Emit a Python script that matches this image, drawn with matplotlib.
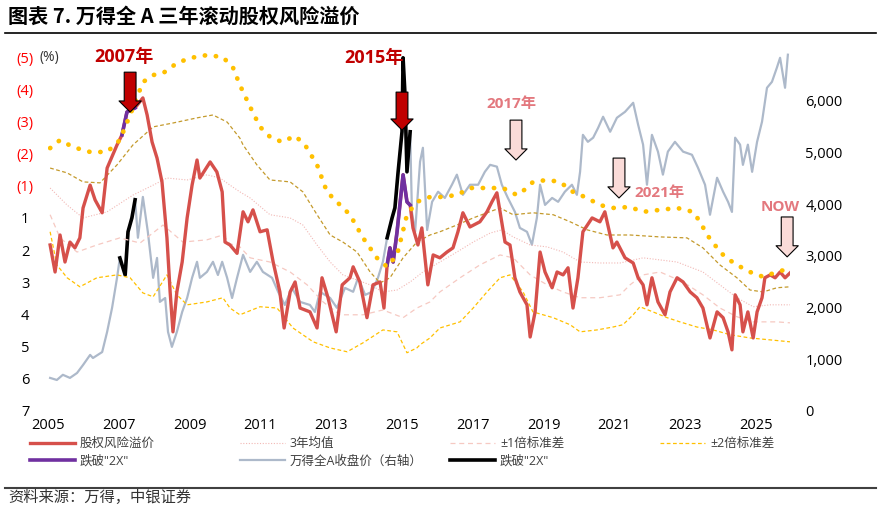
import numpy as np
import matplotlib
matplotlib.use("Agg")
import matplotlib.pyplot as plt
from matplotlib.lines import Line2D

plt.rcParams['font.family'] = ['Open Sans', 'Noto Sans CJK SC', 'DejaVu Sans']

# ---- data ----
# ERP axis uses tick positions -5..6, labelled (5)..(1),1..7
erp_t = [2005.06, 2005.20, 2005.34, 2005.48, 2005.62, 2005.76, 2005.90, 2005.99, 2006.19, 2006.33,
         2006.53, 2006.67, 2006.95, 2007.09, 2007.23, 2007.46, 2007.68, 2007.80, 2007.94, 2008.08,
         2008.22, 2008.36, 2008.45, 2008.53, 2008.64, 2008.79, 2008.93, 2009.07, 2009.21, 2009.29,
         2009.58, 2009.77, 2009.92, 2010.00, 2010.14, 2010.34, 2010.51, 2010.65, 2010.79, 2010.99,
         2011.19, 2011.36, 2011.55, 2011.67, 2011.84, 2011.98, 2012.12, 2012.40, 2012.60, 2012.74,
         2012.91, 2013.14, 2013.31, 2013.53, 2013.62, 2013.81, 2014.01, 2014.18, 2014.38, 2014.49,
         2014.58, 2014.66, 2014.75, 2014.86, 2014.94, 2015.03, 2015.14, 2015.23, 2015.31, 2015.45,
         2015.56, 2015.65, 2015.73, 2015.88, 2016.07, 2016.27, 2016.44, 2016.58, 2016.72, 2016.92,
         2017.20, 2017.40, 2017.54, 2017.68, 2017.77, 2017.91, 2018.05, 2018.19, 2018.33, 2018.53,
         2018.62, 2018.76, 2018.90, 2019.04, 2019.24, 2019.38, 2019.55, 2019.69, 2019.83, 2019.97,
         2020.11, 2020.37, 2020.59, 2020.73, 2020.88, 2020.96, 2021.07, 2021.30, 2021.53, 2021.67,
         2021.81, 2021.92, 2022.06, 2022.23, 2022.43, 2022.57, 2022.77, 2022.94, 2023.14, 2023.33,
         2023.50, 2023.70, 2023.90, 2024.07, 2024.21, 2024.32, 2024.41, 2024.55, 2024.63, 2024.77,
         2024.92, 2025.03, 2025.17, 2025.25, 2025.40, 2025.54, 2025.68, 2025.82, 2025.96]
erp_v = [0.84, 1.68, 0.53, 1.37, 0.75, 0.93, 0.62, -0.31, -1.02, -0.56,
         -0.16, -1.55, -2.27, -2.58, -3.29, -3.42, -3.73, -3.20, -2.36, -1.86,
         -1.12, 0.62, 2.30, 3.54, 2.30, 1.37, 0.00, -1.02, -1.80, -1.24,
         -1.74, -1.43, -0.81, 0.75, 0.84, 1.10, -0.19, 0.12, -0.25, 0.43,
         0.37, 1.37, 2.30, 3.42, 2.30, 1.99, 2.80, 2.92, 3.42, 1.86,
         2.48, 3.54, 2.08, 1.86, 1.52, 1.99, 3.10, 2.08, 1.99, 2.80,
         1.46, 0.93, 1.37, 0.43, -0.40, -1.34, -0.50, -0.40, 0.31, 0.84,
         0.31, 1.24, 2.08, 1.15, 1.24, 1.06, 0.93, 0.43, -0.16, 0.28,
         0.12, -0.19, -0.50, -0.78, -0.19, 0.75, 0.84, 1.86, 2.30, 2.70,
         3.70, 2.92, 1.06, 1.68, 2.17, 1.68, 1.77, 1.55, 2.80, 1.86,
         0.43, 0.00, 0.12, -0.19, 0.55, 0.93, 0.75, 1.24, 1.40, 1.86,
         2.08, 2.70, 1.86, 2.61, 3.01, 2.30, 1.86, 1.99, 2.30, 2.48,
         2.80, 3.73, 2.92, 3.10, 3.54, 4.10, 2.39, 2.70, 3.54, 2.92,
         3.73, 2.92, 2.48, 1.86, 1.77, 1.86, 1.68, 1.86, 1.71]

idx_t = [2005.06, 2005.25, 2005.42, 2005.62, 2005.82, 2005.99, 2006.19, 2006.27, 2006.53, 2006.67,
         2006.81, 2006.95, 2007.03, 2007.18, 2007.26, 2007.37, 2007.46, 2007.54, 2007.68, 2007.82,
         2007.97, 2008.08, 2008.16, 2008.31, 2008.39, 2008.50, 2008.64, 2008.79, 2008.93, 2009.07,
         2009.21, 2009.29, 2009.49, 2009.66, 2009.80, 2009.92, 2010.06, 2010.20, 2010.34, 2010.51,
         2010.71, 2010.90, 2011.07, 2011.33, 2011.50, 2011.69, 2011.89, 2012.12, 2012.40, 2012.54,
         2012.68, 2012.97, 2013.16, 2013.39, 2013.62, 2013.76, 2013.96, 2014.15, 2014.32, 2014.46,
         2014.58, 2014.72, 2014.80, 2014.89, 2015.00, 2015.03, 2015.08, 2015.14, 2015.23, 2015.28,
         2015.37, 2015.51, 2015.59, 2015.71, 2015.85, 2016.02, 2016.21, 2016.41, 2016.55, 2016.72,
         2016.92, 2017.15, 2017.34, 2017.49, 2017.68, 2017.82, 2017.99, 2018.19, 2018.33, 2018.53,
         2018.67, 2018.81, 2018.90, 2019.04, 2019.24, 2019.41, 2019.60, 2019.80, 2019.94, 2020.03,
         2020.11, 2020.25, 2020.40, 2020.54, 2020.68, 2020.88, 2021.07, 2021.30, 2021.53, 2021.67,
         2021.81, 2021.92, 2022.06, 2022.23, 2022.37, 2022.51, 2022.71, 2022.94, 2023.19, 2023.36,
         2023.56, 2023.70, 2023.90, 2024.07, 2024.21, 2024.32, 2024.41, 2024.55, 2024.63, 2024.77,
         2024.89, 2025.03, 2025.17, 2025.31, 2025.45, 2025.59, 2025.68, 2025.82, 2025.90]
idx_v = [640, 600, 700, 640, 735, 890, 1085, 1025, 1140, 1530,
         1995, 2575, 2960, 2630, 3465, 3735, 4085, 3350, 4140, 3465,
         2575, 2960, 2110, 2185, 1530, 1240, 1530, 1915, 2185, 2575,
         2885, 2575, 2690, 2885, 2630, 2885, 2575, 2185, 2575, 3020,
         2690, 2885, 2690, 2575, 2305, 2050, 2380, 2110, 2050, 1915,
         2305, 2185, 1995, 2380, 2305, 2575, 2245, 2305, 2575, 2885,
         3350, 3735, 3930, 4625, 5400, 6830, 6175, 4625, 5400, 3850,
         3465, 4820, 5090, 3500, 4045, 4240, 4120, 4375, 4570, 4180,
         4375, 4375, 4625, 4760, 4725, 4375, 4120, 3850, 3540, 3465,
         3215, 3735, 4375, 3985, 4120, 4045, 4240, 4375, 4180, 4625,
         5340, 5205, 5285, 5475, 5690, 5400, 5670, 5785, 5960, 5535,
         5150, 4375, 5340, 5015, 4570, 5015, 5205, 5015, 4955, 4705,
         4375, 3795, 4510, 4240, 4045, 3850, 5285, 5150, 4760, 5150,
         4625, 5205, 5595, 6250, 6365, 6640, 6830, 6250, 6890]

# periods where ERP broke the -2 sd band ("跌破2X")
break_windows = [(2007.0, 2007.5), (2014.55, 2015.25)]

mean_t = [2005.06, 2005.54, 2005.99, 2006.67, 2007.40, 2007.97, 2008.36, 2008.93, 2009.49, 2009.86,
          2010.14, 2010.42, 2010.71, 2011.27, 2011.84, 2012.20, 2012.60, 2012.97, 2013.33, 2013.73,
          2014.10, 2014.46, 2014.86, 2015.23, 2015.59, 2016.07, 2016.55, 2017.01, 2017.49, 2017.82,
          2018.14, 2018.62, 2019.10, 2019.55, 2020.03, 2020.59, 2021.16, 2021.81, 2022.77, 2023.50,
          2023.98, 2024.46, 2024.92, 2025.40, 2025.96]
mean_v = [-0.93, -0.40, 0.00, -0.19, -0.71, -1.02, -1.24, -1.18, -1.34, -1.24,
          -1.02, -0.81, -0.62, -0.10, 0.00, 0.22, 0.84, 1.37, 1.77, 1.93,
          2.08, 2.30, 2.24, 1.99, 1.68, 1.37, 1.06, 0.75, 0.47, 0.37,
          0.59, 0.84, 0.90, 1.06, 1.37, 1.40, 1.40, 1.24, 1.37, 1.68,
          2.08, 2.48, 2.76, 2.70, 2.70]

m1_t = [2005.06, 2005.54, 2005.99, 2006.47, 2006.95, 2007.40, 2007.97, 2008.53, 2009.21, 2009.66,
        2010.06, 2010.42, 2010.51, 2010.90, 2011.27, 2011.84, 2012.20, 2012.60, 2012.97, 2013.33,
        2013.73, 2014.10, 2014.38, 2014.66, 2015.03, 2015.42, 2015.79, 2016.07, 2016.55, 2017.01,
        2017.40, 2017.77, 2018.14, 2018.70, 2019.27, 2019.75, 2020.23, 2020.79, 2021.44, 2022.29,
        2023.05, 2023.50, 2023.98, 2024.46, 2024.83, 2025.20, 2025.59, 2025.96]
m1_v = [-1.55, -1.40, -1.12, -1.09, -1.65, -2.27, -2.83, -2.95, -3.11, -3.20,
        -2.98, -2.48, -2.27, -1.65, -1.18, -1.12, -0.81, -0.10, 0.53, 0.75,
        1.06, 1.68, 2.02, 1.86, 1.24, 0.75, 0.53, 0.43, 0.22, 0.00,
        -0.16, -0.31, -0.10, -0.16, -0.10, 0.12, 0.37, 0.53, 0.53, 0.59,
        0.62, 0.93, 1.46, 1.86, 2.24, 2.30, 2.17, 2.14]

m2_t = [2005.06, 2005.34, 2005.71, 2006.19, 2006.67, 2007.03, 2007.40, 2007.68, 2007.97, 2008.25,
        2008.64, 2009.01, 2009.49, 2009.94, 2010.23, 2010.42, 2010.71, 2010.99, 2011.27, 2011.61,
        2011.98, 2012.26, 2012.60, 2012.88, 2013.16, 2013.53, 2013.90, 2014.29, 2014.58, 2014.86,
        2015.00, 2015.14, 2015.42, 2015.79, 2016.07, 2016.55, 2016.92, 2017.40, 2017.85, 2018.25,
        2018.53, 2018.70, 2019.10, 2019.46, 2019.83, 2020.23, 2020.59, 2020.96, 2021.44, 2021.81,
        2022.29, 2022.77, 2023.22, 2023.42, 2023.62, 2023.90, 2024.12, 2024.46, 2024.83, 2025.20,
        2025.59, 2025.82]
m2_v = [-2.17, -2.42, -2.20, -2.05, -2.05, -2.42, -3.42, -4.22, -4.44, -4.50,
        -4.81, -4.97, -5.06, -5.00, -4.66, -4.13, -3.45, -2.83, -2.52, -2.36,
        -2.55, -2.27, -1.65, -0.81, -0.50, -0.10, 0.62, 1.24, 1.52, 1.15,
        0.53, -0.10, -0.50, -0.65, -0.65, -0.71, -0.93, -0.93, -0.93, -0.71,
        -0.93, -1.12, -1.18, -1.12, -0.81, -0.62, -0.40, -0.31, -0.34, -0.19,
        -0.25, -0.31, -0.19, 0.12, 0.53, 0.93, 1.21, 1.46, 1.68, 1.83,
        1.68, 1.61]

p1_t = [2005.06, 2005.34, 2005.82, 2006.38, 2007.03, 2007.60, 2008.25, 2008.81, 2009.49, 2009.94,
        2010.14, 2010.42, 2010.71, 2011.27, 2011.84, 2012.32, 2012.77, 2013.25, 2013.90, 2014.46,
        2015.03, 2015.42, 2015.79, 2016.07, 2016.64, 2017.20, 2017.77, 2018.14, 2018.62, 2019.10,
        2019.55, 2020.03, 2020.59, 2021.16, 2021.44, 2021.81, 2022.29, 2022.94, 2023.50, 2023.98,
        2024.46, 2024.92, 2025.59, 2025.96]
p1_v = [-0.10, 0.62, 1.06, 0.84, 0.62, 0.78, 0.22, 0.75, 0.68, 0.53,
        0.80, 0.90, 1.24, 1.37, 1.68, 2.08, 2.61, 3.01, 3.01, 2.86,
        3.10, 2.80, 2.61, 2.30, 1.86, 1.46, 1.15, 1.24, 1.77, 2.08,
        2.30, 2.48, 2.48, 2.39, 2.08, 1.77, 1.68, 1.99, 2.39, 2.80,
        3.07, 3.23, 3.23, 3.26]

p2_t = [2005.06, 2005.25, 2005.54, 2005.90, 2006.38, 2006.95, 2007.32, 2007.68, 2007.97, 2008.36,
        2008.64, 2008.93, 2009.49, 2009.94, 2010.14, 2010.42, 2010.99, 2011.47, 2011.92, 2012.49,
        2012.97, 2013.45, 2013.90, 2014.46, 2014.86, 2015.14, 2015.42, 2015.51, 2015.79, 2016.07,
        2016.64, 2017.01, 2017.40, 2017.77, 2018.05, 2018.42, 2018.70, 2019.27, 2019.75, 2020.03,
        2020.51, 2020.96, 2021.24, 2021.53, 2021.72, 2022.09, 2022.49, 2022.85, 2023.33, 2023.79,
        2024.27, 2024.83, 2025.40, 2025.96]
p2_v = [0.43, 1.46, 1.86, 2.14, 1.86, 1.77, 1.86, 2.33, 2.45, 1.77,
        2.39, 2.70, 2.61, 2.48, 2.80, 3.01, 2.76, 2.80, 3.42, 3.85,
        4.04, 4.16, 3.88, 3.48, 3.54, 4.19, 4.04, 3.94, 3.73, 3.42,
        3.23, 2.80, 2.30, 1.86, 1.77, 2.30, 2.92, 3.10, 3.32, 3.54,
        3.48, 3.39, 3.32, 3.01, 2.76, 2.92, 3.10, 3.23, 3.39, 3.48,
        3.63, 3.73, 3.79, 3.85]

erp_ticks = list(range(-5, 7))
erp_labels = ['(5)', '(4)', '(3)', '(2)', '(1)', '1', '2', '3', '4', '5', '6', '7']
idx_ticks = [0, 1000, 2000, 3000, 4000, 5000, 6000]
year_ticks = list(range(2005, 2027, 2))

# ---- colours ----
RED = '#D6504B'
PURPLE = '#7030A0'
GREY = '#ADB9CA'
GOLD = '#FFC000'
DARKGOLD = '#C49A2C'
PINK_MEAN = '#F2B8B5'
PINK_SD = '#F6C9C2'

erp_t, erp_v = np.array(erp_t), np.array(erp_v)
idx_t, idx_v = np.array(idx_t), np.array(idx_v)

fig = plt.figure(figsize=(8.81, 5.07), dpi=100)
W, H = 881, 507
ax_idx = fig.add_axes([48 / W, 1 - 411 / H, 742 / W, 362 / H])
ax = ax_idx.twinx()
ax_idx.set_zorder(1)
ax.set_zorder(2)
ax.patch.set_visible(False)

# index on the right axis
l_idx, = ax_idx.plot(idx_t, idx_v, color=GREY, lw=1.6)
l_blk = None
for a, b in break_windows:
    m = (idx_t >= a) & (idx_t <= b)
    l_blk, = ax_idx.plot(idx_t[m], idx_v[m], color='black', lw=2.6, zorder=5)

# ERP and bands on the left axis
l_p2, = ax.plot(p2_t, p2_v, color=GOLD, lw=0.9, ls=(0, (3, 2)))
ax.plot(m1_t, m1_v, color=DARKGOLD, lw=0.9, ls=(0, (3, 2)))
l_p1, = ax.plot(p1_t, p1_v, color=PINK_SD, lw=0.9, ls=(0, (4, 3)))
l_mean, = ax.plot(mean_t, mean_v, color=PINK_MEAN, lw=0.8, ls=(0, (1, 1.5)))
l_erp, = ax.plot(erp_t, erp_v, color=RED, lw=2.4)
l_pur = None
for a, b in break_windows:
    m = (erp_t >= a) & (erp_t <= b)
    l_pur, = ax.plot(erp_t[m], erp_v[m], color=PURPLE, lw=2.6)
ax.plot(m2_t, m2_v, color=GOLD, lw=3.4, ls=(0, (0.05, 2.3)), dash_capstyle='round')

# axes formatting
ax.set_xlim(2005.0, 2025.96)
ax.set_ylim(6, -5.25)
ax_idx.set_ylim(0, 7000)
for a_ in (ax, ax_idx):
    for s in a_.spines.values():
        s.set_visible(False)

ax.set_yticks(erp_ticks)
ax.set_yticklabels(erp_labels)
ax.yaxis.tick_left()
ax.tick_params(axis='y', length=0, pad=16.5, labelsize=10.5)
for lab in ax.get_yticklabels():
    lab.set_horizontalalignment('center')
    lab.set_color('red' if lab.get_text().startswith('(') else 'black')

ax_idx.set_yticks(idx_ticks)
ax_idx.set_yticklabels([f'{v:,}' for v in idx_ticks])
ax_idx.yaxis.tick_right()
ax_idx.tick_params(axis='y', length=0, pad=11, labelsize=10.5)

ax_idx.set_xticks(year_ticks)
ax_idx.set_xticklabels([str(y) for y in year_ticks])
ax_idx.tick_params(axis='x', length=0, pad=5, labelsize=10.5)
ax.tick_params(axis='x', length=0, labelbottom=False)

# annotations
def block_arrow(x, y0, y1, fc):
    ax.annotate('', xy=(x, y1), xytext=(x, y0), zorder=10,
                arrowprops=dict(arrowstyle='simple,head_length=0.8,head_width=1.6,tail_width=0.85',
                                mutation_scale=10, fc=fc, ec='black', lw=0.8,
                                shrinkA=0, shrinkB=0))

DARKRED = '#C00000'
PINKTXT = '#E3787E'
PINKFILL = '#FADBD8'
block_arrow(2007.32, -4.53, -3.29, DARKRED)
block_arrow(2015.00, -3.91, -2.73, DARKRED)
block_arrow(2018.22, -3.04, -1.80, PINKFILL)
block_arrow(2021.13, -1.86, -0.62, PINKFILL)
block_arrow(2025.88, -0.03, 1.21, PINKFILL)

ax.text(2007.15, -5.0, '2007年', color=DARKRED, fontsize=13, weight='bold', ha='center', va='center')
ax.text(2014.21, -4.97, '2015年', color=DARKRED, fontsize=13, weight='bold', ha='center', va='center')
ax.text(2018.08, -3.54, '2017年', color=PINKTXT, fontsize=11, weight='bold', ha='center', va='center')
ax.text(2022.26, -0.78, '2021年', color=PINKTXT, fontsize=11, weight='bold', ha='center', va='center')
ax.text(2025.68, -0.34, 'NOW', color=PINKTXT, fontsize=11, weight='bold', ha='center', va='center')

fig.text(40 / W, 1 - 57 / H, '(%)', fontsize=10, color='#333333', va='center')

# title, rules and source
fig.text(8 / W, 1 - 16 / H, '图表 7. 万得全 A 三年滚动股权风险溢价', fontsize=14.5,
         weight='bold', va='center', family=['Noto Sans CJK SC', 'DejaVu Sans'])
fig.add_artist(Line2D([5 / W, 876 / W], [1 - 33 / H] * 2, color='black', lw=1.2))
fig.add_artist(Line2D([5 / W, 876 / W], [1 - 488 / H] * 2, color='#404040', lw=1.5))
fig.text(8 / W, 1 - 497 / H, '资料来源：万得，中银证券', fontsize=11, color='#333333',
         va='center', style='italic', family=['Noto Sans CJK SC', 'DejaVu Sans'])

# legend: four fixed columns like the original grid
cols = [
    (30, [(l_erp, '股权风险溢价'), (l_pur, '跌破"2X"')]),
    (240, [(l_mean, '3年均值'), (l_idx, '万得全A收盘价（右轴）')]),
    (450, [(l_p1, '±1倍标准差'), (l_blk, '跌破"2X"')]),
    (660, [(l_p2, '±2倍标准差')]),
]
for x0, items in cols:
    fig.legend([h for h, _ in items], [t for _, t in items], loc='upper left',
               bbox_to_anchor=(x0 / W, 1 - 437 / H), frameon=False, fontsize=9,
               handlelength=3.6, handletextpad=0.4, labelspacing=0.35,
               borderpad=0, borderaxespad=0, labelcolor='#404040')

fig.savefig('out.png', dpi=100)
